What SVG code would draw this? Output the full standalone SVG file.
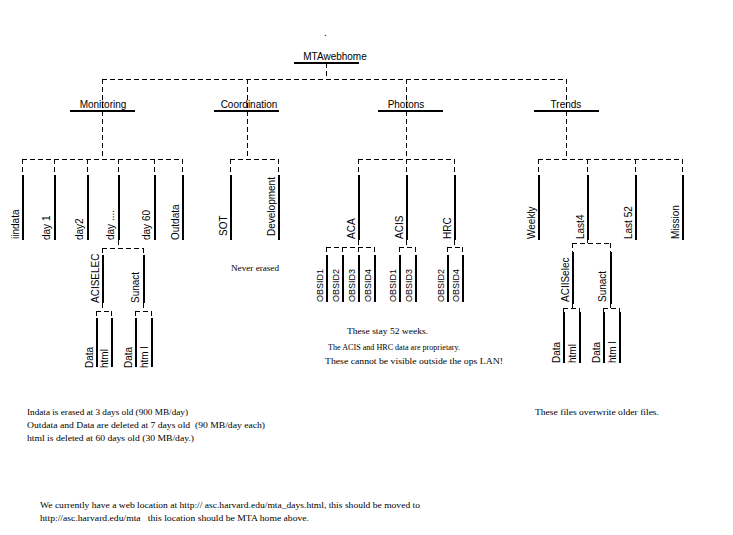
<svg xmlns="http://www.w3.org/2000/svg" width="733" height="535" viewBox="0 0 733 535">
<style>
.d{stroke:#000;stroke-width:1;stroke-dasharray:5,3;fill:none;shape-rendering:crispEdges}
.b{stroke:#000;stroke-width:2;fill:none;shape-rendering:crispEdges}
.l{font-family:"Liberation Sans",Arial,sans-serif;font-size:10px;fill:#000}
.c{text-anchor:middle}
.o{font-size:9px}
.n{font-family:"Liberation Serif","Times New Roman",serif;font-size:8px;fill:#000;white-space:pre}
</style>
<rect width="733" height="535" fill="#fff"/>
<g id="connectors">
<path class="d" d="M326.5 63V79.5M102 79.5H567M102.5 79V159M247.5 79V159M406.5 79V159M566.5 79V159"/>
<path class="d" d="M22 159.5H183M22.5 159V175M54.5 159V175M87.5 159V175M118.5 159V175M154.5 159V175M182.5 159V175"/>
<path class="d" d="M230 159.5H279M230.5 159V175M278.5 159V175"/>
<path class="d" d="M358 159.5H455M358.5 159V175M406.5 159V175M454.5 159V175"/>
<path class="d" d="M538 159.5H683M538.5 159V175M587.5 159V175M635.5 159V175M682.5 159V175"/>
<path class="d" d="M118.5 240V248M102 248.5H144M102.5 248V255M143.5 248V255"/>
<path class="d" d="M102.5 303V311M96 311.5H112M96.5 311V318M111.5 311V318"/>
<path class="d" d="M143.5 303V311M135 311.5H152M135.5 311V318M151.5 311V318"/>
<path class="d" d="M358.5 240V247M326 247.5H375M326.5 247V255M342.5 247V255M358.5 247V255M374.5 247V255"/>
<path class="d" d="M406.5 240V247M399 247.5H416M399.5 247V255M415.5 247V255"/>
<path class="d" d="M454.5 240V247M447 247.5H463M447.5 247V255M462.5 247V255"/>
<path class="d" d="M587.5 240V243M572 243.5H611M572.5 243V252M610.5 243V252"/>
<path class="d" d="M572.5 304V308M563 308.5H580M563.5 308V312M579.5 308V312"/>
<path class="d" d="M610.5 304V308M603 308.5H620M603.5 308V312M619.5 308V312"/>
</g>
<text class="l" x="324" y="36">.</text>
<g id="MTAwebhome"><path class="b" d="M294 63H359"/><text class="l c" x="335" y="60">MTAwebhome</text></g>
<g id="Monitoring"><path class="b" d="M70 111H135"/><text class="l c" x="103" y="108">Monitoring</text></g>
<g id="Coordination"><path class="b" d="M214 111H279"/><text class="l c" x="249" y="108">Coordination</text></g>
<g id="Photons"><path class="b" d="M378 111H443"/><text class="l c" x="406" y="108">Photons</text></g>
<g id="Trends"><path class="b" d="M534 111H599"/><text class="l c" x="566" y="108">Trends</text></g>

<g id="iindata"><path class="b" d="M23 175V240"/><text class="l" transform="translate(19,239) rotate(-90)">iindata</text></g>
<g id="day1"><path class="b" d="M55 175V240"/><text class="l" transform="translate(50,240) rotate(-90)">day 1</text></g>
<g id="day2"><path class="b" d="M88 175V240"/><text class="l" transform="translate(83,240) rotate(-90)">day2</text></g>
<g id="dayN"><path class="b" d="M119 175V240"/><text class="l" transform="translate(114,240) rotate(-90)">day ....</text></g>
<g id="day60"><path class="b" d="M155 175V240"/><text class="l" transform="translate(150,240) rotate(-90)">day 60</text></g>
<g id="Outdata"><path class="b" d="M183 175V240"/><text class="l" transform="translate(179,240) rotate(-90)">Outdata</text></g>

<g id="SOT"><path class="b" d="M231 175V240"/><text class="l" transform="translate(227,236) rotate(-90)">SOT</text></g>
<g id="Development"><path class="b" d="M279 175V240"/><text class="l" transform="translate(275,236) rotate(-90)">Development</text></g>

<g id="ACA"><path class="b" d="M359 175V240"/><text class="l" transform="translate(355,239) rotate(-90)">ACA</text></g>
<g id="ACIS"><path class="b" d="M407 175V240"/><text class="l" transform="translate(403,239) rotate(-90)">ACIS</text></g>
<g id="HRC"><path class="b" d="M455 175V240"/><text class="l" transform="translate(451,239) rotate(-90)">HRC</text></g>

<g id="Weekly"><path class="b" d="M539 175V240"/><text class="l" transform="translate(535,239) rotate(-90)">Weekly</text></g>
<g id="Last4"><path class="b" d="M588 175V240"/><text class="l" transform="translate(584,239) rotate(-90)">Last4</text></g>
<g id="Last52"><path class="b" d="M636 175V240"/><text class="l" transform="translate(632,239) rotate(-90)">Last 52</text></g>
<g id="Mission"><path class="b" d="M683 175V240"/><text class="l" transform="translate(679,239) rotate(-90)">Mission</text></g>

<g id="ACISELEC"><path class="b" d="M103 255V303"/><text class="l" transform="translate(99,303) rotate(-90)">ACISELEC</text></g>
<g id="Sunact1"><path class="b" d="M144 255V303"/><text class="l" transform="translate(139,303) rotate(-90)">Sunact</text></g>
<g id="Data1"><path class="b" d="M97 318V367"/><text class="l" transform="translate(93,368) rotate(-90)">Data</text></g>
<g id="html1"><path class="b" d="M112 318V367"/><text class="l" transform="translate(108,368) rotate(-90)">html</text></g>
<g id="Data2"><path class="b" d="M136 318V367"/><text class="l" transform="translate(132,368) rotate(-90)">Data</text></g>
<g id="html2"><path class="b" d="M152 318V367"/><text class="l" transform="translate(148,368) rotate(-90)">htm l</text></g>

<g id="ACA_OBSID1"><path class="b" d="M327 255V302"/><text class="l o" transform="translate(323,302) rotate(-90)">OBSID1</text></g>
<g id="ACA_OBSID2"><path class="b" d="M343 255V302"/><text class="l o" transform="translate(339,302) rotate(-90)">OBSID2</text></g>
<g id="ACA_OBSID3"><path class="b" d="M359 255V302"/><text class="l o" transform="translate(355,302) rotate(-90)">OBSID3</text></g>
<g id="ACA_OBSID4"><path class="b" d="M375 255V302"/><text class="l o" transform="translate(371,302) rotate(-90)">OBSID4</text></g>
<g id="ACIS_OBSID1"><path class="b" d="M400 255V302"/><text class="l o" transform="translate(396,302) rotate(-90)">OBSID1</text></g>
<g id="ACIS_OBSID3"><path class="b" d="M416 255V302"/><text class="l o" transform="translate(412,302) rotate(-90)">OBSID3</text></g>
<g id="HRC_OBSID2"><path class="b" d="M448 255V302"/><text class="l o" transform="translate(444,302) rotate(-90)">OBSID2</text></g>
<g id="HRC_OBSID4"><path class="b" d="M463 255V302"/><text class="l o" transform="translate(459,302) rotate(-90)">OBSID4</text></g>

<g id="ACIISelec"><path class="b" d="M573 252V304"/><text class="l" transform="translate(569,302) rotate(-90)">ACIISelec</text></g>
<g id="Sunact2"><path class="b" d="M611 252V304"/><text class="l" transform="translate(606,302) rotate(-90)">Sunact</text></g>
<g id="Data3"><path class="b" d="M564 312V363"/><text class="l" transform="translate(560,363) rotate(-90)">Data</text></g>
<g id="html3"><path class="b" d="M580 312V363"/><text class="l" transform="translate(576,363) rotate(-90)">html</text></g>
<g id="Data4"><path class="b" d="M604 312V363"/><text class="l" transform="translate(600,363) rotate(-90)">Data</text></g>
<g id="html4"><path class="b" d="M620 312V363"/><text class="l" transform="translate(616,363) rotate(-90)">htm l</text></g>

<g id="notes">
<text class="n" x="231" y="271" textLength="48" lengthAdjust="spacingAndGlyphs">Never erased</text>
<text class="n" x="347" y="334" textLength="81" lengthAdjust="spacingAndGlyphs">These stay 52 weeks.</text>
<text class="n" x="328" y="350" textLength="132" lengthAdjust="spacingAndGlyphs">The ACIS and HRC data are proprietary.</text>
<text class="n" x="325" y="364" textLength="178" lengthAdjust="spacingAndGlyphs">These cannot be visible outside the ops LAN!</text>
<text class="n" x="27" y="415" textLength="161" lengthAdjust="spacingAndGlyphs">Indata is erased at 3 days old (900 MB/day)</text>
<text class="n" x="27" y="428" textLength="238" lengthAdjust="spacingAndGlyphs">Outdata and Data are deleted at 7 days old  (90 MB/day each)</text>
<text class="n" x="27" y="441" textLength="167" lengthAdjust="spacingAndGlyphs">html is deleted at 60 days old (30 MB/day.)</text>
<text class="n" x="535" y="415" textLength="124" lengthAdjust="spacingAndGlyphs">These files overwrite older files.</text>
<text class="n" x="40" y="508" textLength="380" lengthAdjust="spacingAndGlyphs">We currently have a web location at http:// asc.harvard.edu/mta_days.html, this should be moved to</text>
<text class="n" x="40" y="521" textLength="269" lengthAdjust="spacingAndGlyphs">http://asc.harvard.edu/mta   this location should be MTA home above.</text>
</g>
</svg>
